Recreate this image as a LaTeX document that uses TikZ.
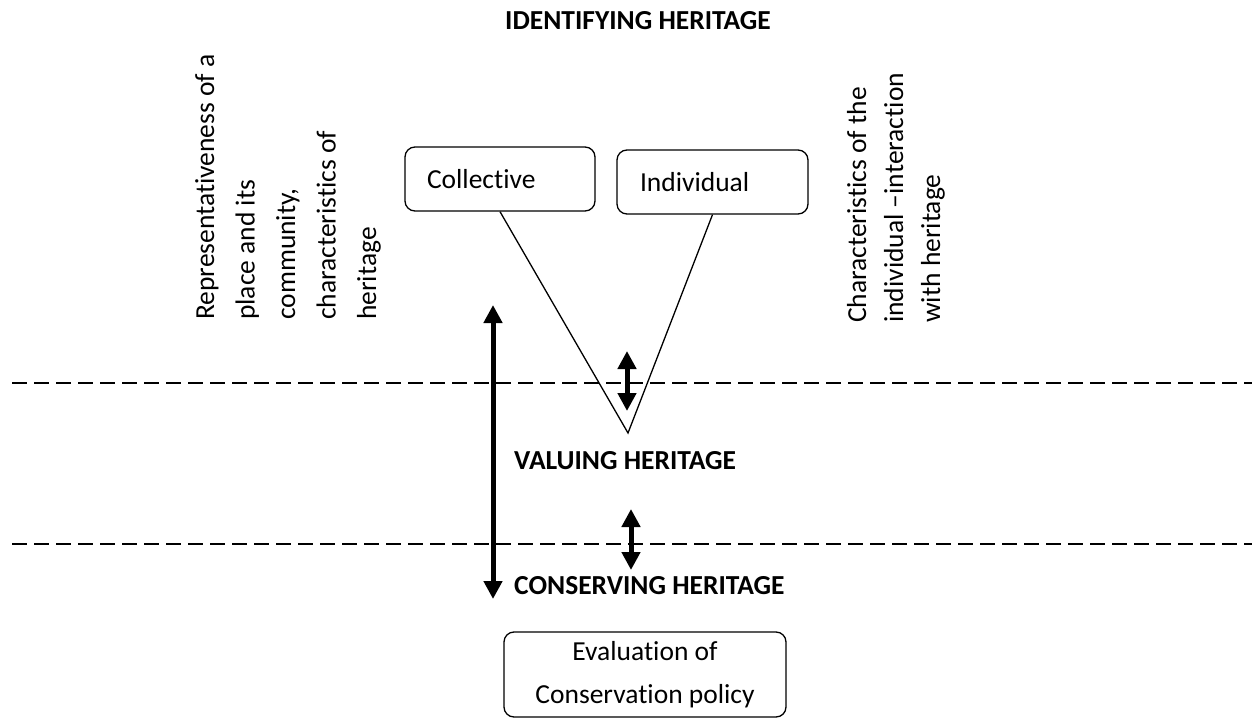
\documentclass[tikz,border=0pt]{standalone}
\usepackage{fontspec}
\setmainfont{Carlito}[Ligatures={NoCommon,NoContextual}]
\usetikzlibrary{arrows.meta}
\begin{document}
\begin{tikzpicture}[x=1pt,y=-1pt,
  txt/.style={font=\fontsize{27.5}{41}\selectfont, inner sep=0pt},
  head/.style={font=\fontsize{27.5}{41}\selectfont\bfseries, inner sep=0pt},
  vtext/.style={txt, rotate=90, anchor=base west},
  rbox/.style={draw, line width=1.3pt, rounded corners=10pt, font=\fontsize{27.5}{43}\selectfont},
  vline/.style={line width=1.3pt},
  dline/.style={line width=2pt, dash pattern=on 15pt off 7pt},
  darrow/.style={line width=5pt, {Triangle[length=18pt,width=18pt]}-{Triangle[length=18pt,width=18pt]}}
]
\useasboundingbox (0,0) rectangle (1252,719);

% titles
\node[head, anchor=base] (t1) at (638,30) {IDENTIFYING HERITAGE};
\node[head, anchor=base west] (t2) at (514,469) {VALUING HERITAGE};
\node[head, anchor=base west] (t3) at (514,594) {CONSERVING HERITAGE};

% left rotated text
\node[vtext] (l1) at (214,320) {Representativeness of a};
\node[vtext] (l2) at (254.5,320) {place and its};
\node[vtext] (l3) at (295,320) {community,};
\node[vtext] (l4) at (335.5,320) {characteristics of};
\node[vtext] (l5) at (376,320) {heritage};

% right rotated text
\node[vtext] (r1) at (866,323) {Characteristics of the};
\node[vtext] (r2) at (903,323) {individual –interaction};
\node[vtext] (r3) at (940,323) {with heritage};

% boxes
\node[rbox, minimum height=64pt, text width=146pt, inner xsep=22pt, inner ysep=0pt, align=left] (coll) at (500,179) {Collective};
\node[rbox, minimum height=64pt, text width=145pt, inner xsep=23pt, inner ysep=0pt, align=left] (indiv) at (712.5,182) {Individual};
\node[rbox, minimum width=282pt, minimum height=85pt, align=center] (eval) at (645,674.5) {Evaluation of\\Conservation policy};

% V
\coordinate (vx) at (628,433);
\draw[vline] (coll.south) -- (vx) -- (indiv.south);

% dashed lines
\coordinate (d1a) at (12,383);
\coordinate (d1b) at (1252,383);
\coordinate (d2a) at (12,544);
\coordinate (d2b) at (1252,544);
\draw[dline] (d1a) -- (d1b);
\draw[dline] (d2a) -- (d2b);

% arrows
\coordinate (a1t) at (493,305);
\coordinate (a1b) at (493,599);
\coordinate (a2t) at (627,351);
\coordinate (a2b) at (627,411);
\coordinate (a3t) at (631,509);
\coordinate (a3b) at (631,570);
\draw[darrow] (a1t) -- (a1b);
\draw[darrow] (a2t) -- (a2b);
\draw[darrow] (a3t) -- (a3b);
\end{tikzpicture}
\end{document}
